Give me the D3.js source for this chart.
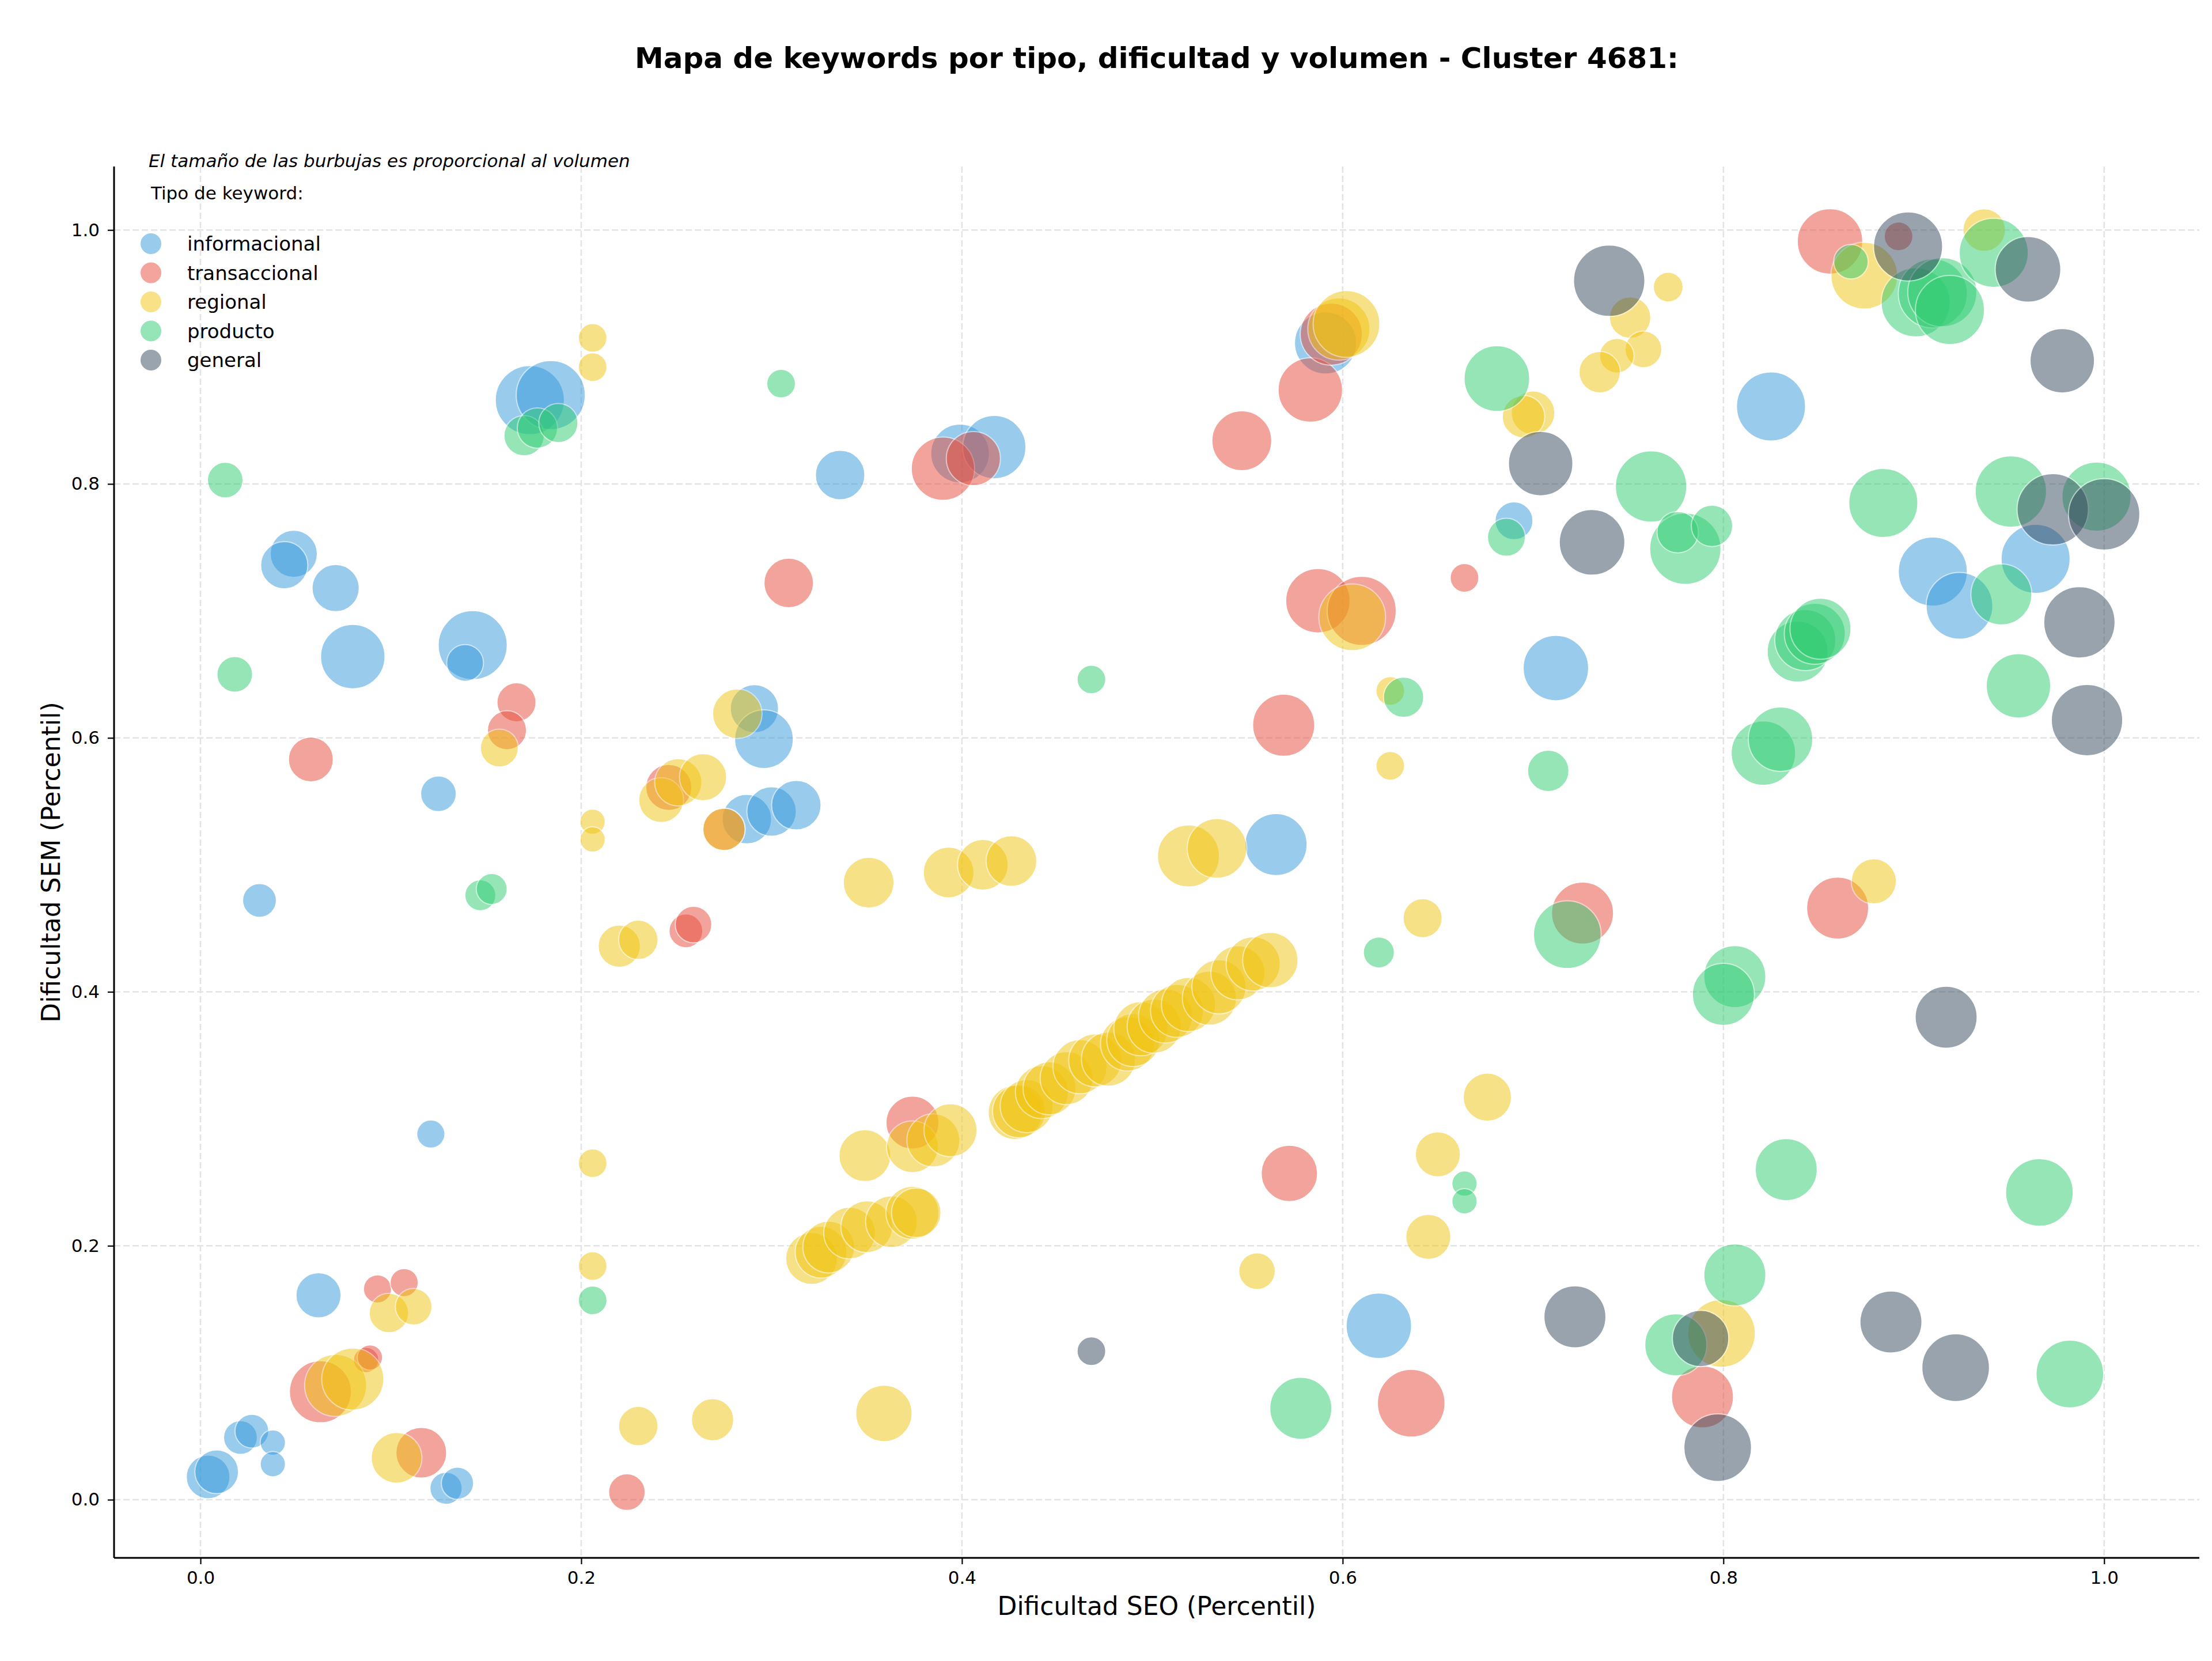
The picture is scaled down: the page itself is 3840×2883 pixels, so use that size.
<!DOCTYPE html>
<html>
<head>
<meta charset="utf-8">
<script src="https://cdn.jsdelivr.net/npm/d3@7"></script>
<style>
  body { margin: 0; background: #fff; }
  text { font-family: "DejaVu Sans", sans-serif; }
</style>
</head>
<body>
<svg id="chart" width="3840" height="2883"></svg>
<script>
// tipos de keyword
const tipos = ["informacional", "transaccional", "regional", "producto", "general"];

// [dificultad SEO, dificultad SEM, volumen]
const informacional = [
  [0.004, 0.018, 312], [0.0085, 0.022, 312], [0.021, 0.049, 187], [0.027, 0.054, 187],
  [0.038, 0.045, 105], [0.038, 0.028, 105], [0.129, 0.009, 170], [0.135, 0.013, 170],
  [0.062, 0.161, 332], [0.121, 0.288, 130], [0.031, 0.472, 187], [0.125, 0.556, 208],
  [0.080, 0.664, 678], [0.071, 0.718, 364], [0.049, 0.745, 364], [0.044, 0.736, 364],
  [0.143, 0.673, 779], [0.139, 0.659, 221], [0.173, 0.866, 779], [0.184, 0.870, 779],
  [0.336, 0.807, 400], [0.291, 0.623, 380], [0.296, 0.599, 563], [0.287, 0.536, 400],
  [0.300, 0.542, 400], [0.313, 0.547, 400], [0.399, 0.824, 563], [0.417, 0.829, 654],
  [0.591, 0.911, 630], [0.565, 0.516, 630], [0.619, 0.137, 700], [0.712, 0.655, 700],
  [0.690, 0.771, 235], [0.825, 0.861, 779], [0.910, 0.731, 779], [0.964, 0.741, 779],
  [0.924, 0.704, 727]
];

const transaccional = [
  [0.063, 0.085, 628], [0.087, 0.110, 105], [0.089, 0.112, 105], [0.093, 0.166, 130],
  [0.107, 0.171, 130], [0.116, 0.037, 420], [0.224, 0.006, 219], [0.058, 0.583, 329],
  [0.166, 0.628, 250], [0.161, 0.606, 250], [0.246, 0.561, 346], [0.255, 0.448, 187],
  [0.259, 0.453, 219], [0.275, 0.528, 292], [0.309, 0.722, 400], [0.390, 0.812, 654],
  [0.406, 0.820, 478], [0.374, 0.297, 458], [0.547, 0.834, 585], [0.583, 0.874, 678],
  [0.594, 0.918, 630], [0.587, 0.708, 678], [0.610, 0.700, 779], [0.664, 0.726, 135],
  [0.569, 0.610, 630], [0.572, 0.257, 519], [0.636, 0.076, 747], [0.726, 0.462, 628],
  [0.860, 0.466, 628], [0.789, 0.081, 628], [0.856, 0.991, 700], [0.892, 0.995, 135]
];

const regional = [
  [0.071, 0.090, 628], [0.080, 0.095, 628], [0.099, 0.147, 254], [0.112, 0.152, 219],
  [0.103, 0.033, 420], [0.157, 0.592, 235], [0.206, 0.915, 135], [0.206, 0.892, 135],
  [0.206, 0.534, 105], [0.206, 0.520, 105], [0.206, 0.265, 135], [0.206, 0.184, 135],
  [0.230, 0.058, 254], [0.269, 0.063, 292], [0.359, 0.068, 519], [0.220, 0.436, 292],
  [0.230, 0.441, 254], [0.242, 0.551, 329], [0.251, 0.565, 364], [0.264, 0.569, 364],
  [0.282, 0.619, 400], [0.275, 0.528, 292], [0.349, 0.271, 438], [0.374, 0.278, 438],
  [0.385, 0.283, 458], [0.394, 0.291, 458],
  [0.321, 0.190, 438], [0.326, 0.195, 438], [0.330, 0.199, 438], [0.341, 0.210, 438],
  [0.350, 0.215, 438], [0.363, 0.219, 438], [0.374, 0.226, 458], [0.376, 0.226, 400],
  [0.428, 0.305, 478], [0.430, 0.306, 458], [0.434, 0.310, 458], [0.442, 0.321, 458],
  [0.446, 0.324, 458], [0.455, 0.332, 458], [0.462, 0.341, 478], [0.470, 0.346, 458],
  [0.477, 0.347, 478], [0.487, 0.359, 478], [0.490, 0.362, 458], [0.494, 0.371, 478],
  [0.501, 0.373, 478], [0.507, 0.381, 478], [0.513, 0.385, 458], [0.519, 0.390, 478],
  [0.530, 0.395, 478], [0.535, 0.404, 478], [0.545, 0.415, 478], [0.553, 0.422, 478],
  [0.562, 0.425, 500],
  [0.351, 0.486, 420], [0.393, 0.494, 420], [0.411, 0.500, 420], [0.426, 0.503, 420],
  [0.519, 0.507, 628], [0.534, 0.513, 580], [0.598, 0.922, 630], [0.602, 0.926, 727],
  [0.605, 0.695, 727], [0.625, 0.637, 135], [0.625, 0.578, 135], [0.642, 0.458, 250],
  [0.676, 0.317, 380], [0.650, 0.272, 332], [0.645, 0.207, 332], [0.555, 0.180, 219],
  [0.879, 0.487, 332], [0.799, 0.131, 747], [0.771, 0.955, 146], [0.751, 0.931, 280],
  [0.758, 0.906, 221], [0.744, 0.901, 195], [0.735, 0.888, 280], [0.700, 0.856, 312],
  [0.695, 0.853, 296], [0.874, 0.964, 727], [0.937, 1.000, 296]
];

const producto = [
  [0.013, 0.803, 208], [0.018, 0.650, 208], [0.170, 0.838, 265], [0.177, 0.844, 265],
  [0.188, 0.848, 250], [0.305, 0.879, 135], [0.147, 0.476, 157], [0.153, 0.481, 157],
  [0.206, 0.157, 135], [0.468, 0.646, 135], [0.632, 0.632, 265], [0.619, 0.431, 157],
  [0.664, 0.249, 105], [0.664, 0.235, 105], [0.578, 0.072, 628], [0.681, 0.883, 703],
  [0.686, 0.758, 235], [0.708, 0.574, 280], [0.718, 0.445, 747], [0.762, 0.798, 831],
  [0.780, 0.749, 831], [0.776, 0.762, 280], [0.794, 0.767, 280], [0.775, 0.122, 628],
  [0.806, 0.177, 628], [0.806, 0.412, 628], [0.800, 0.398, 628], [0.821, 0.588, 678],
  [0.830, 0.599, 678], [0.833, 0.260, 628], [0.839, 0.668, 607], [0.843, 0.677, 607],
  [0.848, 0.682, 607], [0.851, 0.686, 607], [0.867, 0.975, 195], [0.884, 0.785, 779],
  [0.901, 0.943, 779], [0.910, 0.950, 779], [0.915, 0.951, 779], [0.919, 0.937, 779],
  [0.942, 0.982, 779], [0.951, 0.794, 831], [0.996, 0.790, 779], [0.946, 0.713, 607],
  [0.955, 0.641, 678], [0.966, 0.242, 747], [0.982, 0.099, 747]
];

const general = [
  [0.468, 0.117, 135], [0.740, 0.960, 831], [0.704, 0.816, 678], [0.731, 0.754, 703],
  [0.897, 0.987, 779], [0.960, 0.969, 703], [0.978, 0.897, 678], [0.973, 0.780, 831],
  [1.000, 0.776, 831], [0.987, 0.691, 831], [0.991, 0.614, 831], [0.917, 0.380, 628],
  [0.888, 0.140, 628], [0.922, 0.104, 747], [0.722, 0.144, 628], [0.788, 0.127, 519],
  [0.797, 0.041, 747]
];

const series = [informacional, transaccional, regional, producto, general];
const ticks = [0, 0.2, 0.4, 0.6, 0.8, 1.0];

const colores = ["#3498db", "#e74c3c", "#f1c40f", "#2ecc71", "#34495e"];

const svg = d3.select("#chart");
svg.append("rect").attr("width", 3840).attr("height", 2883).attr("fill", "#fff");

const margin = { top: 289, right: 22, bottom: 179, left: 198 };
const width = 3840 - margin.left - margin.right;
const height = 2883 - margin.top - margin.bottom;

const g = svg.append("g").attr("transform", `translate(${margin.left},${margin.top})`);

// Escalas
const x = d3.scaleLinear().domain([-0.0454, 1.05]).range([0, width]);
const y = d3.scaleLinear().domain([-0.0458, 1.05]).range([height, 0]);
const r = d3.scaleSqrt().domain([0, 1000]).range([0, 68]);

// rejilla
g.append("g").selectAll("line").data(ticks).enter().append("line")
  .attr("x1", d => x(d)).attr("x2", d => x(d))
  .attr("y1", 0).attr("y2", height)
  .attr("stroke", "#e3e3e3").attr("stroke-width", 2.5).attr("stroke-dasharray", "11,5");
g.append("g").selectAll("line").data(ticks).enter().append("line")
  .attr("y1", d => y(d)).attr("y2", d => y(d))
  .attr("x1", 0).attr("x2", width)
  .attr("stroke", "#e3e3e3").attr("stroke-width", 2.5).attr("stroke-dasharray", "11,5");

// burbujas
series.forEach((data, i) => {
  g.append("g").selectAll("circle")
    .data(data)
    .enter()
    .append("circle")
    .attr("cx", d => x(d[0]))
    .attr("cy", d => y(d[1]))
    .attr("r", d => r(d[2]))
    .attr("fill", colores[i])
    .attr("stroke", "#fff")
    .attr("stroke-width", 2)
    .attr("opacity", 0.5);
});

// eje X
const gx = g.append("g")
  .attr("transform", `translate(0,${height})`)
  .call(d3.axisBottom(x).tickValues(ticks).tickFormat(d3.format(".1f")).tickSize(11).tickPadding(12));
// eje Y
const gy = g.append("g")
  .call(d3.axisLeft(y).tickValues(ticks).tickFormat(d3.format(".1f")).tickSize(11).tickPadding(14));

[gx, gy].forEach(a => {
  a.select(".domain").remove();
  a.selectAll("line").attr("stroke", "#000").attr("stroke-width", 2.2);
  a.selectAll("text").style("font-size", "31px").attr("fill", "#000");
});

// spines
g.append("line").attr("x1", 0).attr("x2", 0).attr("y1", 0).attr("y2", height)
  .attr("stroke", "#000").attr("stroke-width", 3);
g.append("line").attr("x1", 0).attr("x2", width).attr("y1", height).attr("y2", height)
  .attr("stroke", "#000").attr("stroke-width", 3);

// etiquetas
svg.append("text")
  .attr("x", margin.left + width / 2).attr("y", 2803)
  .attr("text-anchor", "middle").style("font-size", "44px")
  .text("Dificultad SEO (Percentil)");
svg.append("text")
  .attr("transform", `translate(104,${margin.top + height / 2}) rotate(-90)`)
  .attr("text-anchor", "middle").style("font-size", "44px")
  .text("Dificultad SEM (Percentil)");

svg.append("text")
  .attr("x", margin.left + width / 2).attr("y", 118)
  .attr("text-anchor", "middle").style("font-size", "50px").style("font-weight", "bold")
  .text("Mapa de keywords por tipo, dificultad y volumen - Cluster 4681:");

svg.append("text")
  .attr("x", 258).attr("y", 290)
  .style("font-size", "31px").style("font-style", "italic")
  .text("El tamaño de las burbujas es proporcional al volumen");

// leyenda
svg.append("text")
  .attr("x", 262).attr("y", 346)
  .style("font-size", "31px")
  .text("Tipo de keyword:");

const leg = svg.append("g").selectAll("g")
  .data(tipos)
  .enter()
  .append("g")
  .attr("transform", (d, i) => `translate(262,${423 + i * 50.5})`);
leg.append("circle")
  .attr("r", 18)
  .attr("fill", (d, i) => colores[i])
  .attr("opacity", 0.5);
leg.append("text")
  .attr("x", 63).attr("y", 12)
  .style("font-size", "34px")
  .text(d => d);
</script>
</body>
</html>
